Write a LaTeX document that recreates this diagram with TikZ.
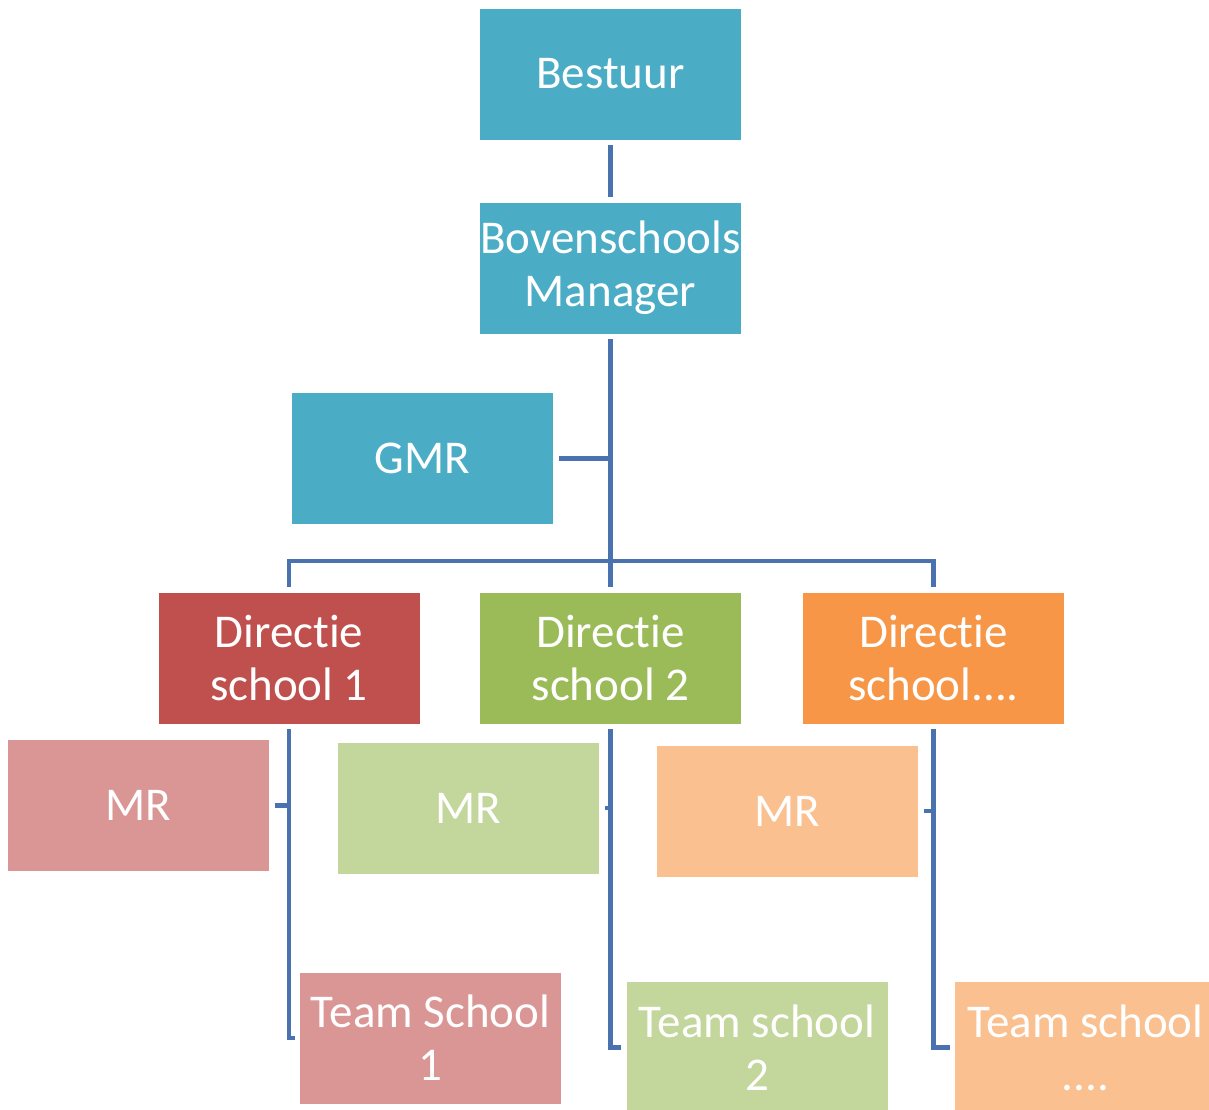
\documentclass[tikz,border=0pt]{standalone}
\usepackage{fontspec}
\setmainfont[Ligatures={NoCommon,NoContextual,NoRare}]{Carlito}
\definecolor{boardblue}{HTML}{4BACC6}
\definecolor{linkblue}{HTML}{4A72AE}
\definecolor{redbox}{HTML}{C0504D}
\definecolor{redlight}{HTML}{D99694}
\definecolor{greenbox}{HTML}{9BBB59}
\definecolor{greenlight}{HTML}{C3D69B}
\definecolor{orangebox}{HTML}{F79646}
\definecolor{orangelight}{HTML}{FAC090}
\begin{document}
\begin{tikzpicture}[x=1pt,y=-1pt,
    link/.style={draw=linkblue, line width=4.5pt}]

      \useasboundingbox (0,0) rectangle (1209,1109);
      \clip (0,0) rectangle (1209,1109);

      \begin{scope}[every node/.style={rectangle, minimum width=261pt, minimum height=131pt,
          inner sep=0pt, outer sep=5.5pt, align=center, text=white,
          font=\fontsize{47}{53}\selectfont}]
        \node[fill=boardblue]   (bestuur) at (610.5,74)    {Bestuur};
        \node[fill=boardblue]   (bov)     at (610.5,268)   {Bovenschools\\Manager};
        \node[fill=boardblue]   (gmr)     at (422.5,458.5) {GMR};
        \node[fill=redbox]      (dir1)    at (289,658)     {Directie\\school 1};
        \node[fill=greenbox]    (dir2)    at (610.5,658)   {Directie\\school 2};
        \node[fill=orangebox]   (dir3)    at (933.5,658)   {Directie\\school....};
        \node[fill=redlight]    (mr1)     at (138.5,805.5) {MR};
        \node[fill=greenlight]  (mr2)     at (468.5,808)   {MR};
        \node[fill=orangelight] (mr3)     at (787.5,811)   {MR};
        \node[fill=redlight]    (team1)   at (430.5,1038)  {Team School\\1};
        \node[fill=greenlight]  (team2)   at (757,1047.5)  {Team school\\2};
        \node[fill=orangelight] (team3)   at (1085.5,1047.5) {Team school\\....};
      \end{scope}

      \coordinate (hub) at (610.5,561);

      \draw[link] (bestuur) -- (bov);
      \draw[link] (bov) -- (dir2);
      \draw[link] (gmr) -- (gmr -| hub);
      \draw[link] (dir1) |- (hub) -| (dir3);

      \draw[link] (dir1) |- (team1);
      \draw[link] (dir2) |- (team2);
      \draw[link] (dir3) |- (team3);
      \draw[link] (mr1) -- (mr1 -| dir1);
      \draw[link] (mr2) -- (mr2 -| dir2);
      \draw[link] (mr3) -- (mr3 -| dir3);

    \end{tikzpicture}
\end{document}
